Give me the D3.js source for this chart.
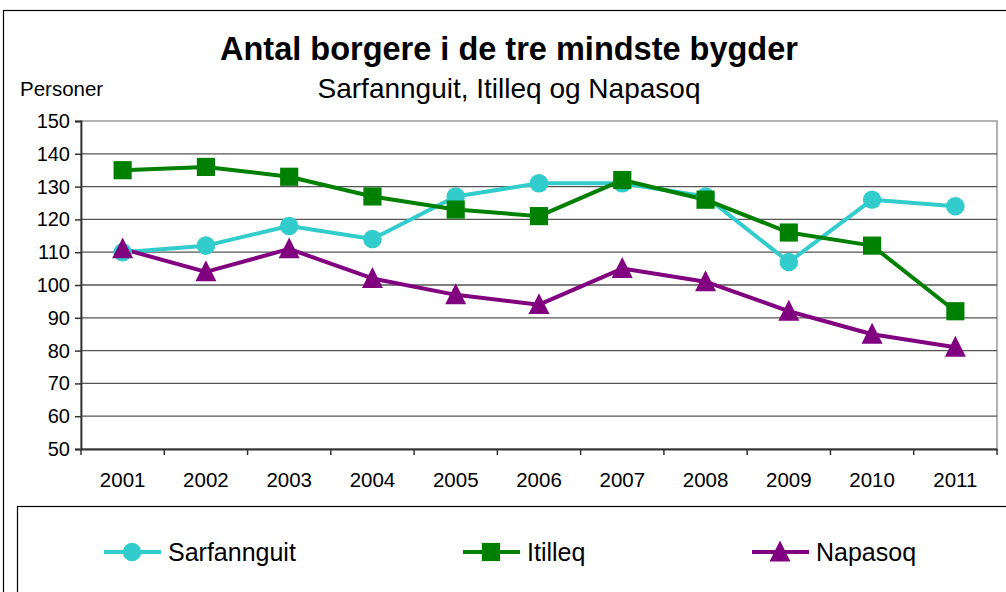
<!DOCTYPE html>
<html>
<head>
<meta charset="utf-8">
<script src="https://cdn.jsdelivr.net/npm/d3@7"></script>
<style>
  body { margin: 0; background: #fff; }
  svg { font-family: "Liberation Sans", Arial, sans-serif; }
</style>
</head>
<body>
<svg class="chart" width="1006" height="592"></svg>
<script>
// data
var years = ["2001","2002","2003","2004","2005","2006","2007","2008","2009","2010","2011"];
var sarfannguit = [110, 112, 118, 114, 127, 131, 131, 127, 107, 126, 124];
var itilleq     = [135, 136, 133, 127, 123, 121, 132, 126, 116, 112, 92];
var napasoq     = [111, 104, 111, 102, 97, 94, 105, 101, 92, 85, 81];
var yTicks = [50, 60, 70, 80, 90, 100, 110, 120, 130, 140, 150];

var series = [
  {name: "Sarfannguit", values: sarfannguit, color: "#33CCCC", shape: "circle"},
  {name: "Itilleq", values: itilleq, color: "#008000", shape: "square"},
  {name: "Napasoq", values: napasoq, color: "#800080", shape: "triangle"}
];

var svg = d3.select("svg.chart");
var margin = {top: 121, right: 9, bottom: 143, left: 81};
var width = 1006 - margin.left - margin.right,
    height = 592 - margin.top - margin.bottom;

// outer chart border
svg.append("rect")
    .attr("x", 3.5).attr("y", 10.5)
    .attr("width", 1010).attr("height", 600)
    .attr("fill", "none").attr("stroke", "#000").attr("stroke-width", 1.2);

// titles
svg.append("text")
    .attr("x", 509).attr("y", 60)
    .attr("text-anchor", "middle")
    .attr("font-size", 32.5).attr("font-weight", "bold")
    .text("Antal borgere i de tre mindste bygder");
svg.append("text")
    .attr("x", 509).attr("y", 98)
    .attr("text-anchor", "middle")
    .attr("font-size", 28)
    .text("Sarfannguit, Itilleq og Napasoq");
svg.append("text")
    .attr("x", 20).attr("y", 96)
    .attr("font-size", 20.5)
    .text("Personer");

var g = svg.append("g").attr("transform", "translate(" + margin.left + "," + margin.top + ")");

var x = d3.scaleBand().domain(years).range([0, width]);
var y = d3.scaleLinear().domain([50, 150]).range([height, 0]);

// plot area border (grey)
g.append("rect")
    .attr("x", 0).attr("y", 0)
    .attr("width", width).attr("height", height)
    .attr("fill", "none").attr("stroke", "#999").attr("stroke-width", 1.5);

// gridlines
g.selectAll("line.grid")
  .data(yTicks.slice(1, -1))
  .enter().append("line")
    .attr("class", "grid")
    .attr("x1", 0).attr("x2", width)
    .attr("y1", function(d) { return y(d); })
    .attr("y2", function(d) { return y(d); })
    .attr("stroke", "#555").attr("stroke-width", 1.3);

// y axis
var yAxis = g.append("g")
    .call(d3.axisLeft(y).tickValues(yTicks).tickSize(6).tickPadding(5));
yAxis.selectAll("text").attr("font-size", 20).attr("fill", "#000")
    .attr("font-family", "Liberation Sans, Arial, sans-serif");
yAxis.select(".domain").attr("stroke", "#333").attr("stroke-width", 1.8);
yAxis.selectAll(".tick line").attr("stroke", "#333").attr("stroke-width", 1.5);

// x axis: ticks between categories
var xAxis = g.append("g")
    .attr("transform", "translate(0," + height + ")")
    .call(d3.axisBottom(x).tickSize(0).tickPadding(23));
xAxis.selectAll("text").attr("font-size", 20.5).attr("fill", "#000")
    .attr("font-family", "Liberation Sans, Arial, sans-serif");
xAxis.select(".domain").attr("stroke", "#333").attr("stroke-width", 1.8);
xAxis.selectAll("line.sep")
  .data(years.map(function(d, i) { return i; }).concat([years.length]))
  .enter().append("line")
    .attr("class", "sep")
    .attr("x1", function(i) { return i * x.step(); })
    .attr("x2", function(i) { return i * x.step(); })
    .attr("y1", 0).attr("y2", 6)
    .attr("stroke", "#333").attr("stroke-width", 1.5);

var cx = function(d, i) { return x(years[i]) + x.bandwidth() / 2; };

var line = d3.line()
    .x(function(d, i) { return cx(d, i); })
    .y(function(d) { return y(d); });

// triangle a bit taller than equilateral, like the original marker
var triangle = {
  draw: function(context, size) {
    var h = Math.sqrt(size * 2) / 2;
    context.moveTo(0, -h * 1.1);
    context.lineTo(h, h * 0.9);
    context.lineTo(-h, h * 0.9);
    context.closePath();
  }
};

var symbolFor = function(shape) {
  if (shape === "circle") return d3.symbol().type(d3.symbolCircle).size(270);
  if (shape === "square") return d3.symbol().type(d3.symbolSquare).size(330);
  return d3.symbol().type(triangle).size(220);
};

series.forEach(function(s) {
  g.append("path")
      .datum(s.values)
      .attr("fill", "none")
      .attr("stroke", s.color)
      .attr("stroke-width", 4)
      .attr("stroke-linejoin", "round")
      .attr("d", line);
});
series.forEach(function(s) {
  g.selectAll("path.m-" + s.shape)
    .data(s.values)
    .enter().append("path")
      .attr("class", "m-" + s.shape)
      .attr("transform", function(d, i) {
        return "translate(" + cx(d, i) + "," + y(d) + ")";
      })
      .attr("d", symbolFor(s.shape)())
      .attr("fill", s.color);
});

// legend
svg.append("rect")
    .attr("x", 17.5).attr("y", 506.5)
    .attr("width", 1000).attr("height", 100)
    .attr("fill", "#fff").attr("stroke", "#000").attr("stroke-width", 1.2);

var legendX = [104, 463, 752];
var legend = svg.selectAll("g.legend")
  .data(series)
  .enter().append("g")
    .attr("class", "legend")
    .attr("transform", function(d, i) { return "translate(" + legendX[i] + ",552)"; });
legend.append("line")
    .attr("x1", 0).attr("x2", 57).attr("y1", 0).attr("y2", 0)
    .attr("stroke", function(d) { return d.color; }).attr("stroke-width", 4);
legend.append("path")
    .attr("transform", "translate(28,0)")
    .attr("d", function(d) { return symbolFor(d.shape)(); })
    .attr("fill", function(d) { return d.color; });
legend.append("text")
    .attr("x", 64).attr("y", 9)
    .attr("font-size", 25)
    .text(function(d) { return d.name; });
</script>
</body>
</html>
